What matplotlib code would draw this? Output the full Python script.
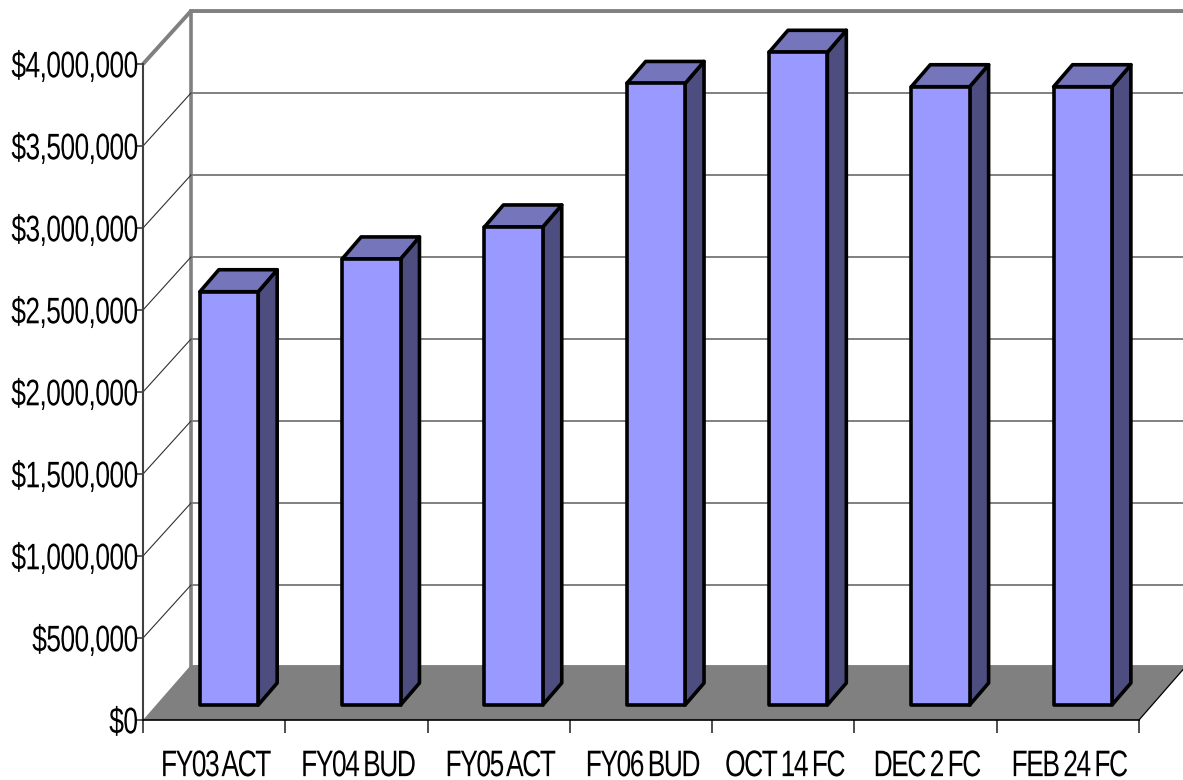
import matplotlib
matplotlib.use("Agg")
import matplotlib.pyplot as plt
import numpy as np
from matplotlib.patheffects import AbstractPathEffect
from matplotlib.path import Path

categories = ["FY03 ACT", "FY04 BUD", "FY05 ACT", "FY06 BUD", "OCT 14 FC", "DEC 2 FC", "FEB 24 FC"]
values = [2520000, 2720000, 2915000, 3790000, 3980000, 3770000, 3770000]
y_ticks = [0, 500000, 1000000, 1500000, 2000000, 2500000, 3000000, 3500000, 4000000]
y_labels = ["$0", "$500,000", "$1,000,000", "$1,500,000", "$2,000,000",
            "$2,500,000", "$3,000,000", "$3,500,000", "$4,000,000"]

# fake 3D depth, x in category units and y in dollars
WALL_DX = 0.337
WALL_DY = 323000
FLOOR_DY = 335000
BAR_INSET_X = 0.105
BAR_INSET_Y = 91500
BAR_DX = 0.133
BAR_DY = 134000
BAR_W = 0.41

FRONT = "#9999ff"
TOP = "#7575bb"
SIDE = "#4d4d80"
GRAY = "#808080"


# makes a text taller and pushes its letters closer together
class Condensed(AbstractPathEffect):
    def __init__(self, amount, space, anchor, stretch=1.4, nudge=7):
        super().__init__()
        self.amount = amount
        self.space = space
        self.anchor = anchor
        self.stretch = stretch
        self.nudge = nudge

    def draw_path(self, renderer, gc, tpath, affine, rgbFace=None):
        starts = np.flatnonzero(tpath.codes == Path.MOVETO)
        stops = np.append(starts[1:], len(tpath.codes))
        parts = sorted(zip(starts, stops), key=lambda p: tpath.vertices[p[0]:p[1], 0].min())

        # contours that overlap in x belong to one glyph
        shifts = np.zeros(len(parts))
        shift = 0.0
        right = None
        for k, (a, b) in enumerate(parts):
            xs = tpath.vertices[a:b, 0]
            if right is not None and xs.min() > right - 1:
                shift -= self.amount
                if xs.min() - right > 15:
                    shift -= self.space
            shifts[k] = shift
            right = xs.max() if right is None else max(right, xs.max())

        if self.anchor == "right":
            shifts -= shift
        else:
            shifts -= shift / 2

        verts = tpath.vertices.copy()
        for (a, b), s in zip(parts, shifts):
            verts[a:b, 0] += s + self.nudge
        # stretch around the middle of the capitals
        verts[:, 1] = 36 + (verts[:, 1] - 36) * self.stretch
        renderer.draw_path(gc, Path(verts, tpath.codes), affine, rgbFace)


plt.rcParams["font.family"] = ["Liberation Sans", "DejaVu Sans"]

fig = plt.figure(figsize=(11.83, 7.8), dpi=100)
ax = fig.add_axes([143 / 1183, 60 / 780, 996 / 1183, 656 / 780])
ax.set_xlim(0, 7)
ax.set_ylim(0, 4000000)
ax.patch.set_visible(False)

# back wall and left wall
ax.plot([0, WALL_DX, 7 + WALL_DX], [4000000, 4000000 + WALL_DY, 4000000 + WALL_DY],
        color=GRAY, lw=2.8, clip_on=False, zorder=1, solid_capstyle="butt")
ax.plot([WALL_DX, WALL_DX], [WALL_DY, 4000000 + WALL_DY], color=GRAY, lw=2.6, clip_on=False, zorder=1)
for t in y_ticks[1:-1]:
    ax.plot([WALL_DX, 7 + WALL_DX], [t + WALL_DY, t + WALL_DY], color=GRAY, lw=1.4, clip_on=False, zorder=1)
    ax.plot([0, WALL_DX], [t, t + WALL_DY], color="#303030", lw=0.8, clip_on=False, zorder=1)

# floor
ax.fill([0, WALL_DX, 7 + WALL_DX, 7], [0, FLOOR_DY, FLOOR_DY, 0], color=GRAY, lw=0, clip_on=False, zorder=2)
ax.plot([7, 7 + WALL_DX], [0, FLOOR_DY], color="black", lw=0.9, clip_on=False, zorder=2)

# bars, each one is three polygons
for i, v in enumerate(values):
    x0 = i + 0.5 - BAR_W / 2 + BAR_INSET_X
    x1 = x0 + BAR_W
    y0 = BAR_INSET_Y
    y1 = BAR_INSET_Y + v
    style = dict(edgecolor="black", lw=2.6, clip_on=False, zorder=3, joinstyle="round")
    ax.fill([x1, x1 + BAR_DX, x1 + BAR_DX, x1], [y0, y0 + BAR_DY, y1 + BAR_DY, y1], facecolor=SIDE, **style)
    ax.fill([x0, x0 + BAR_DX, x1 + BAR_DX, x1], [y1, y1 + BAR_DY, y1 + BAR_DY, y1], facecolor=TOP, **style)
    ax.fill([x0, x1, x1, x0], [y0, y0, y1, y1], facecolor=FRONT, **style)

for side in ["top", "right"]:
    ax.spines[side].set_visible(False)
ax.spines["left"].set_color("#404040")
ax.spines["left"].set_linewidth(1.5)
ax.spines["bottom"].set_color("black")
ax.spines["bottom"].set_linewidth(1.2)

ax.set_yticks(y_ticks)
ax.set_yticklabels(y_labels)
ax.tick_params(axis="y", length=5, width=1.2, color="#404040", pad=0, labelsize=19)
ax.set_xticks(range(8))
ax.set_xticklabels([])
ax.tick_params(axis="x", which="major", length=9, width=1.2, color="#303030")
ax.set_xticks(np.arange(7) + 0.5, minor=True)
ax.set_xticklabels(categories, minor=True)
ax.tick_params(axis="x", which="minor", length=0, pad=24, labelsize=19)

for label in ax.get_yticklabels():
    label.set_path_effects([Condensed(2.2, 0, "right")])
for label in ax.get_xticklabels(minor=True):
    label.set_path_effects([Condensed(5.5, 10, "center")])

fig.savefig("out.png", dpi=100)
